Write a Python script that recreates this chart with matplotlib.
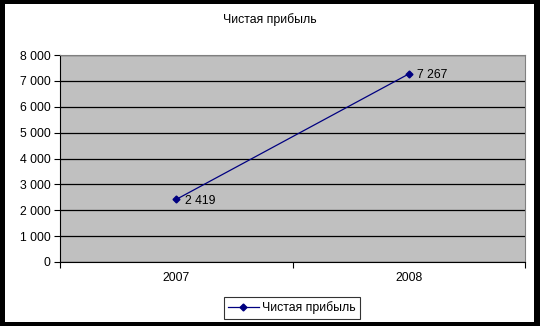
import matplotlib
matplotlib.use("Agg")
import matplotlib.pyplot as plt
from matplotlib.patches import Rectangle

plt.rcParams['font.family'] = ['Liberation Sans', 'DejaVu Sans']

# данные
years = ["2007", "2008"]
profit = [2419, 7267]
yticks = [0, 1000, 2000, 3000, 4000, 5000, 6000, 7000, 8000]
title = "Чистая прибыль"


def fmt(v):
    return "{:,}".format(v).replace(",", " ")


fig = plt.figure(figsize=(5.4, 3.26), dpi=100)
fig.patch.set_facecolor("black")
# белое поле внутри черной рамки
fig.add_artist(Rectangle((5 / 540, 4 / 326), 529 / 540, 318 / 326,
                         transform=fig.transFigure, facecolor="white",
                         edgecolor="none", zorder=0))

ax = fig.add_axes([60 / 540, 64 / 326, 465 / 540, 207 / 326])
ax.set_facecolor("#C0C0C0")

x = list(range(len(years)))
ax.plot(x, profit, color="#000080", lw=0.9, marker="D", ms=3.5,
        label=title, zorder=3)
for xi, v in zip(x, profit):
    ax.annotate(fmt(v), (xi, v), xytext=(6, -3), textcoords="offset points",
                fontsize=8.8, color="black")

ax.set_xlim(-0.5, len(years) - 0.5)
ax.set_ylim(0, 8000)
ax.set_yticks(yticks)
ax.set_yticklabels([fmt(t) for t in yticks], fontsize=8.8)
ax.yaxis.grid(True, color="black", lw=0.9)
ax.set_axisbelow(True)

ax.set_xticks([i - 0.5 for i in range(len(years) + 1)])
ax.set_xticklabels([])
ax.set_xticks(x, minor=True)
ax.set_xticklabels(years, minor=True, fontsize=8.8)
ax.tick_params(axis="x", which="minor", length=0, pad=7)
ax.tick_params(axis="x", which="major", length=4, direction="out")
ax.tick_params(axis="y", length=4, direction="out", pad=3)

for s in ["top", "right"]:
    ax.spines[s].set_color("#808080")
for s in ["left", "bottom"]:
    ax.spines[s].set_color("black")

fig.text(0.5, 1 - 20 / 326, title, ha="center", va="center", fontsize=8.8)

leg = ax.legend(loc="center", bbox_to_anchor=(292 / 540, 18 / 326),
                bbox_transform=fig.transFigure, fontsize=8.8, frameon=True,
                fancybox=False, edgecolor="black", handlelength=2.5,
                borderpad=0.35, handletextpad=0.3)
leg.get_frame().set_linewidth(0.8)

fig.savefig("out.png", dpi=100, facecolor=fig.get_facecolor())
